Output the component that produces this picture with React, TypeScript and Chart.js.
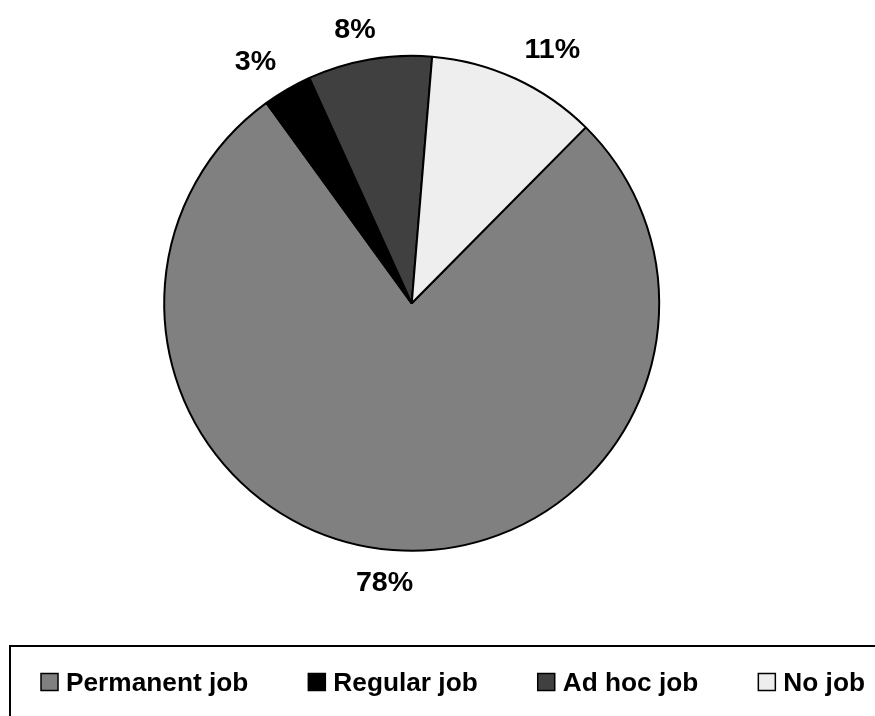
import React, { useEffect, useRef } from "react";
import { Chart, registerables } from "chart.js";

Chart.register(...registerables);

const categories = ["Permanent job", "Regular job", "Ad hoc job", "No job"];
const shares = [77.6, 3.2, 8.1, 11.1];
const sliceColors = ["#808080", "#000000", "#404040", "#eeeeee"];

const FONT = '"Liberation Sans", Arial, sans-serif';

const pctLabelPlugin = {
  id: "pctLabels",
  afterDatasetsDraw(chart: any) {
    const ctx = chart.ctx;
    const meta = chart.getDatasetMeta(0);
    const data = chart.data.datasets[0].data as number[];
    const total = data.reduce((a, b) => a + b, 0);
    const size = 27;
    const stretch = 1.06;
    ctx.save();
    ctx.font = `bold ${size}px ${FONT}`;
    ctx.fillStyle = "#000";
    ctx.textAlign = "center";
    ctx.textBaseline = "alphabetic";
    const capH = 0.716 * size;
    meta.data.forEach((arc: any, i: number) => {
      const p = arc.getProps(["x", "y", "startAngle", "endAngle", "outerRadius"], true);
      const mid = (p.startAngle + p.endAngle) / 2;
      const dx = Math.cos(mid);
      const dy = Math.sin(mid);
      const txt = Math.round((data[i] / total) * 100) + "%";
      const w = ctx.measureText(txt).width * stretch;
      const anchorDist = p.outerRadius + 22;
      const ax = p.x + dx * anchorDist;
      const ay = p.y + dy * anchorDist;
      const fx = Math.min(1, 3 * Math.abs(dx));
      const fy = Math.min(1, 3 * Math.abs(dy));
      const cx = ax + Math.sign(dx) * fx * (w / 2);
      const cy = ay + Math.sign(dy) * fy * (capH / 2);
      ctx.save();
      ctx.translate(cx, cy + capH / 2);
      ctx.scale(stretch, 1);
      ctx.fillText(txt, 0, 0);
      ctx.restore();
    });
    ctx.restore();
  },
};

const boxLegendPlugin = {
  id: "boxLegend",
  afterDraw(chart: any) {
    const ctx = chart.ctx;
    const labels = chart.data.labels as string[];
    const colors = chart.data.datasets[0].backgroundColor as string[];
    ctx.save();
    ctx.strokeStyle = "#000";
    ctx.lineWidth = 2;
    ctx.strokeRect(10, 646, 885, 90);

    const fontSize = 25;
    const stretch = 1.05;
    ctx.font = `bold ${fontSize}px ${FONT}`;
    const widths = labels.map((l) => ctx.measureText(l).width * stretch);
    const markerToText = 25;
    const gap = 60;
    const total = widths.reduce((a, w) => a + w + markerToText, 0) + gap * (labels.length - 1);
    let x = 453 - total / 2;
    const markerTop = 673.5;
    const markerSize = 17;
    const baseline = 691;
    labels.forEach((l, i) => {
      ctx.fillStyle = colors[i];
      ctx.fillRect(x, markerTop, markerSize, markerSize);
      ctx.lineWidth = 1.5;
      ctx.strokeStyle = "#000";
      ctx.strokeRect(x, markerTop, markerSize, markerSize);
      ctx.save();
      ctx.translate(x + markerToText, baseline);
      ctx.scale(stretch, 1);
      ctx.fillStyle = "#000";
      ctx.textAlign = "left";
      ctx.textBaseline = "alphabetic";
      ctx.fillText(l, 0, 0);
      ctx.restore();
      x += markerToText + widths[i] + gap;
    });
    ctx.restore();
  },
};

export default function App() {
  const ref = useRef<HTMLCanvasElement | null>(null);
  useEffect(() => {
    document.body.style.margin = "0";
    const canvas = ref.current;
    if (!canvas) return;
    const chart = new Chart(canvas, {
      type: "pie",
      data: {
        labels: categories,
        datasets: [
          {
            data: shares,
            backgroundColor: sliceColors,
            borderColor: "#000000",
            borderWidth: 2,
            hoverOffset: 0,
            hoverBorderWidth: 2,
          },
        ],
      },
      options: {
        animation: false,
        responsive: false,
        rotation: 44.7,
        layout: {
          padding: { top: 54.8, bottom: 164.2, left: 111.7, right: 163.3 },
        },
        plugins: {
          legend: { display: false },
          tooltip: { enabled: false },
        },
        events: [],
      },
      plugins: [pctLabelPlugin, boxLegendPlugin],
    });
    return () => chart.destroy();
  }, []);
  return (
    <div style={{ position: "absolute", left: 0, top: 0, width: 875, height: 716, background: "#fff" }}>
      <canvas ref={ref} width={875} height={716} style={{ display: "block" }} />
    </div>
  );
}
